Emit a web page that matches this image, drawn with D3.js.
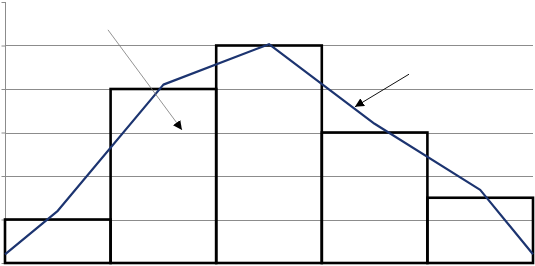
<!DOCTYPE html>
<html>
<head>
<meta charset="utf-8">
<script src="https://cdn.jsdelivr.net/npm/d3@7"></script>
<style>
  body { margin: 0; background: #fff; }
  svg { display: block; }
</style>
</head>
<body>
<div id="chart"></div>
<script>
// histogram bars (bin index -> frequency)
var bins = [0, 1, 2, 3, 4];
var barValues = [1, 4, 5, 3, 1.5];

// frequency polygon: x in bin units, y in frequency
var polyX = [0, 0.5, 1.5, 2.5, 3.5, 4.5, 5];
var polyY = [0.2, 1.2, 4.1, 5.03, 3.2, 1.68, 0.2];

var yTicks = [0, 1, 2, 3, 4, 5, 6];

// annotation arrows [x0, y0, x1, y1] in data units
var arrows = [
  [0.975, 5.36, 1.676, 3.06],
  [3.826, 4.34, 3.314, 3.59]
];

var width = 535, height = 266;

var svg = d3.select("#chart").append("svg")
  .attr("width", width).attr("height", height);

var x = d3.scaleLinear().domain([0, 5]).range([5, 533]);
var y = d3.scaleLinear().domain([0, 6]).range([263, 2]);

svg.append("defs").append("marker")
  .attr("id", "head")
  .attr("viewBox", "0 0 10 10")
  .attr("refX", 10).attr("refY", 5)
  .attr("markerWidth", 9).attr("markerHeight", 9)
  .attr("markerUnits", "userSpaceOnUse")
  .attr("orient", "auto")
  .append("path")
  .attr("d", "M0,0 L10,5 L0,10 Z")
  .attr("fill", "#000");

// gridlines
svg.append("g").selectAll("line")
  .data(yTicks.filter(function(d) { return d > 0 && d < 6; }))
  .enter().append("line")
  .attr("x1", x(0)).attr("x2", x(5))
  .attr("y1", function(d) { return Math.round(y(d)) + 0.5; })
  .attr("y2", function(d) { return Math.round(y(d)) + 0.5; })
  .attr("stroke", "#8c8c8c").attr("stroke-width", 1);

// axes
var yAxis = d3.axisLeft(y).tickValues(yTicks).tickSize(4).tickFormat("");
var yg = svg.append("g").attr("transform", "translate(" + (x(0) + 0.5) + ",0)").call(yAxis);
yg.select(".domain").attr("stroke", "#8c8c8c").attr("d", "M0," + y(6) + "V" + y(0));
yg.selectAll(".tick line").attr("stroke", "#8c8c8c");

svg.append("line")
  .attr("x1", x(0)).attr("x2", x(5))
  .attr("y1", Math.round(y(0)) + 0.5).attr("y2", Math.round(y(0)) + 0.5)
  .attr("stroke", "#8c8c8c");

// bars
svg.append("g").selectAll("rect")
  .data(d3.zip(bins, barValues))
  .enter().append("rect")
  .attr("x", function(d) { return x(d[0]); })
  .attr("y", function(d) { return y(d[1]); })
  .attr("width", function(d) { return x(d[0] + 1) - x(d[0]); })
  .attr("height", function(d) { return y(0) - y(d[1]); })
  .attr("fill", "none")
  .attr("stroke", "#000")
  .attr("stroke-width", 2.6);

// polygon
var line = d3.line()
  .x(function(d) { return x(d[0]); })
  .y(function(d) { return y(d[1]); });

svg.append("path")
  .datum(d3.zip(polyX, polyY))
  .attr("d", line)
  .attr("fill", "none")
  .attr("stroke", "#1c3470")
  .attr("stroke-width", 2.2)
  .attr("stroke-linejoin", "round");

// arrows
svg.append("g").selectAll("line")
  .data(arrows)
  .enter().append("line")
  .attr("x1", function(d) { return x(d[0]); })
  .attr("y1", function(d) { return y(d[1]); })
  .attr("x2", function(d) { return x(d[2]); })
  .attr("y2", function(d) { return y(d[3]); })
  .attr("stroke", function(d, i) { return i === 0 ? "#777" : "#111"; })
  .attr("stroke-width", function(d, i) { return i === 0 ? 0.8 : 1; })
  .attr("marker-end", "url(#head)");
</script>
</body>
</html>
